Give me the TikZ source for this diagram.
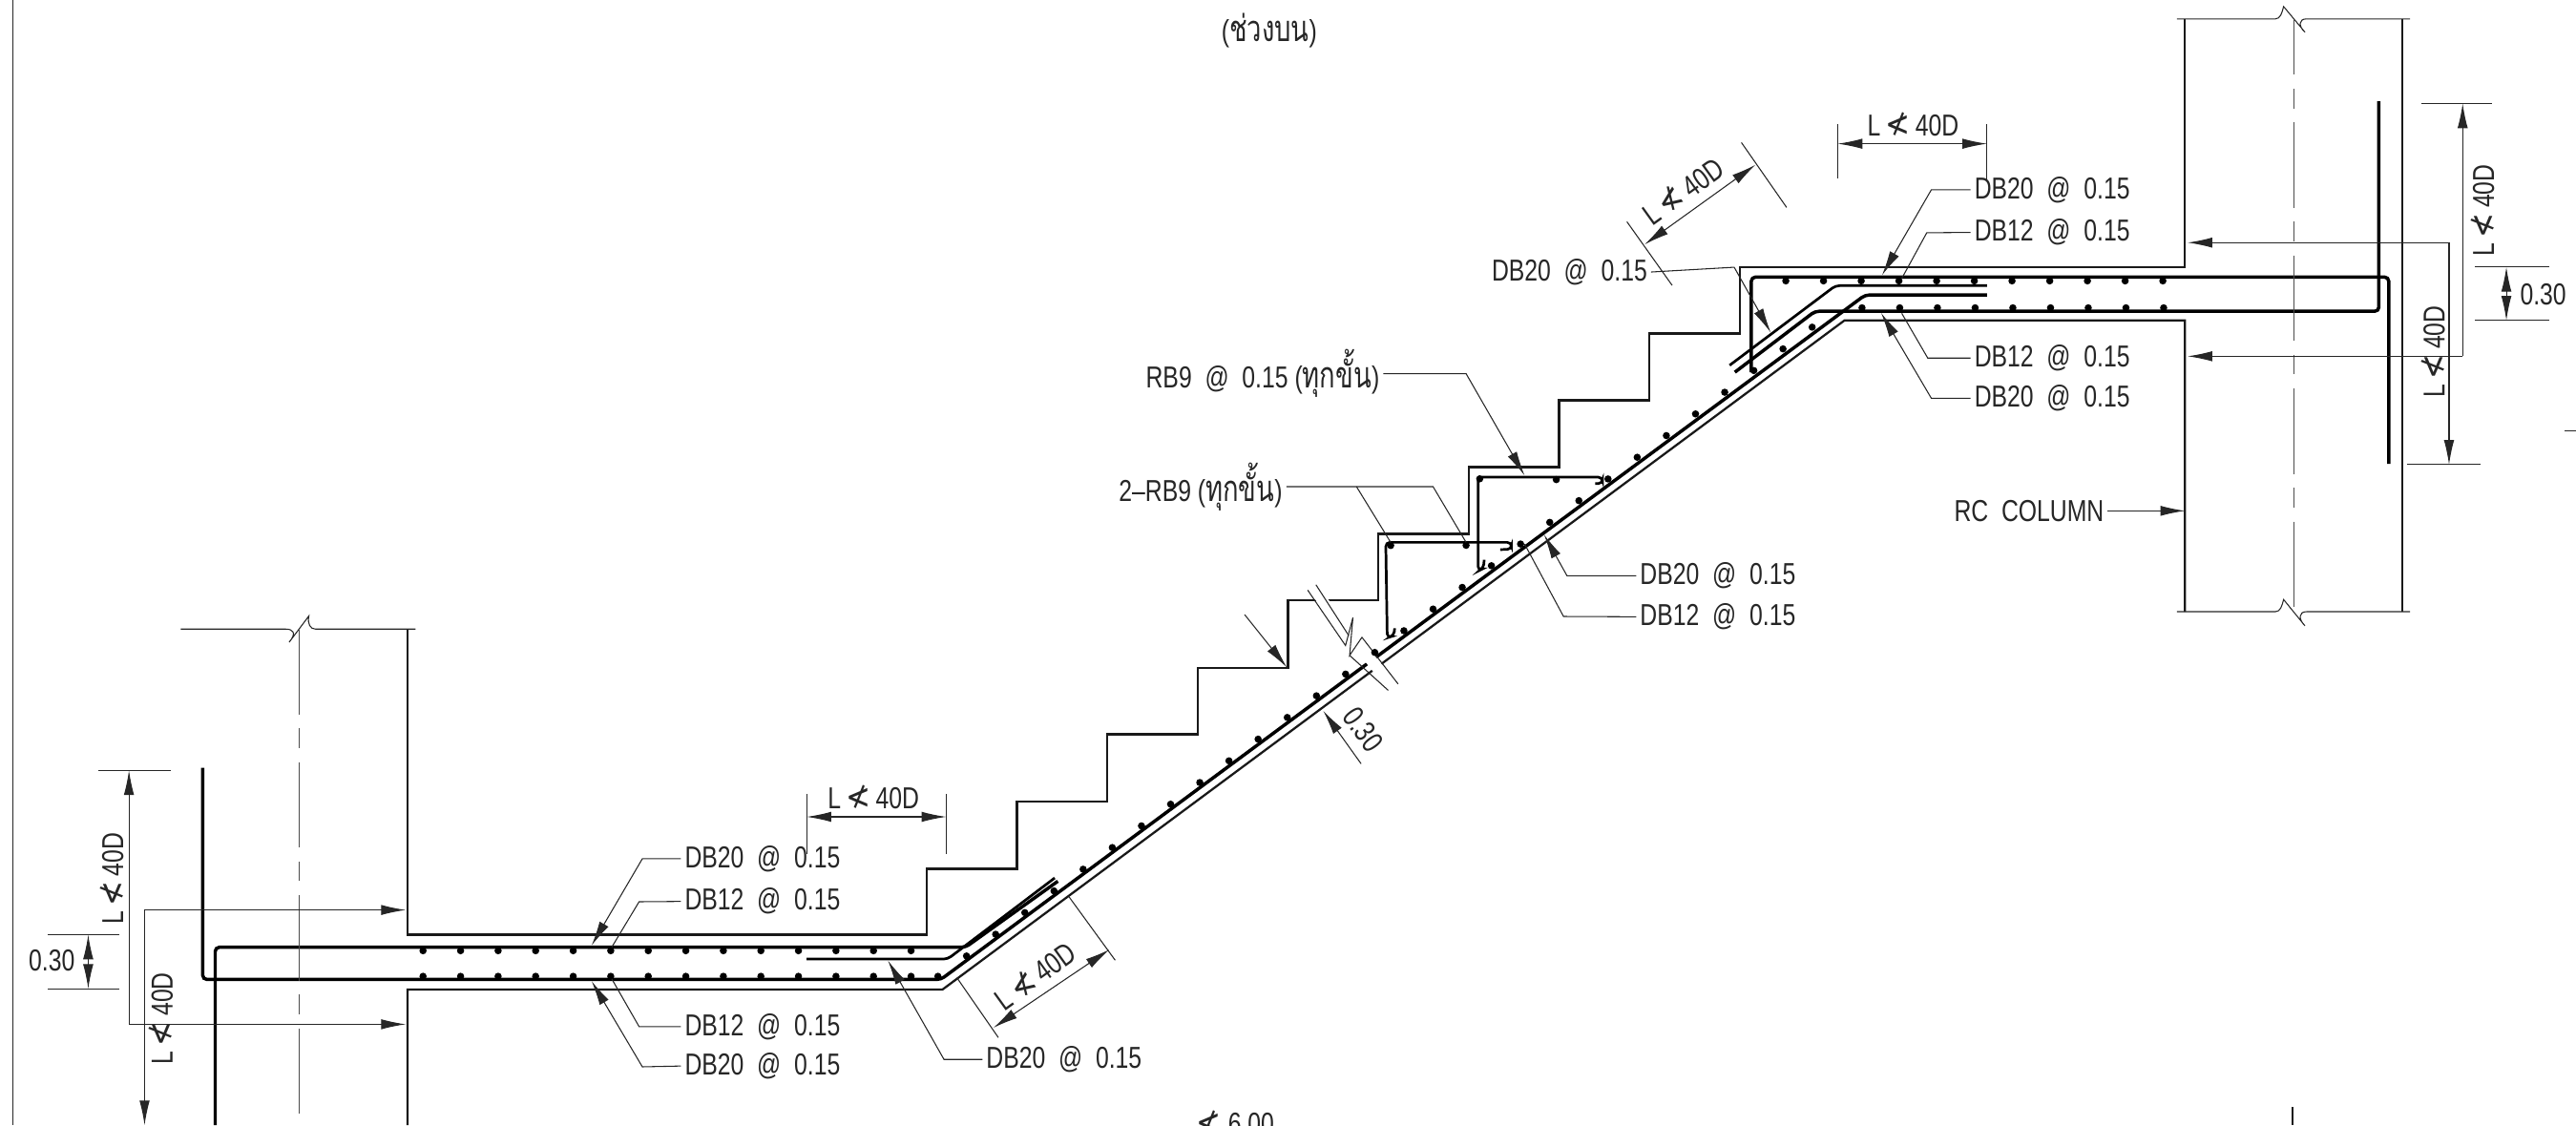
\documentclass[tikz,border=0pt]{standalone}
\usepackage{fontspec}
\usetikzlibrary{arrows.meta,positioning}
\newfontfamily\lblfamily[FakeStretch=0.78]{Liberation Sans}
\newfontfamily\thaifont[Script=Thai,FakeStretch=0.72,Scale=1.2]{Loma}
\newfontfamily\symfont[FakeStretch=0.85,Scale=1.15]{DejaVu Sans}
\newcommand{\nlt}{{\symfont ≮}}
\newcommand{\lap}{L\,\nlt\,40D}
\newcommand{\dbtext}[1]{#1\ \ @\ \ 0.15}
\tikzstyle{lbl} = [font=\lblfamily\fontsize{10.5pt}{12pt}\selectfont, inner sep=0.4mm, text=black!85]
\tikzstyle{ldr} = [line width=0.35pt, black!85]
\tikzstyle{outline} = [line width=0.75pt, black!90]
\tikzstyle{rebar} = [line width=1.15pt, rounded corners=0.5mm]
\tikzstyle{centerline} = [line width=0.3pt, black!70, dash pattern=on 10.4mm off 1.7mm on 2.4mm off 1.7mm]

\begin{document}
\begin{tikzpicture}[x=0.2mm,y=-0.2mm,>={Latex[length=3mm,width=1.25mm]}]
  \useasboundingbox (0,0) rectangle (1568,685);
  \clip (0,0) rectangle (1568,685);

  % concrete
  \draw[ldr] (8,0) -- (8,685);
  \draw[outline] (248,383) -- (248,569) -- (564,569) -- (564,529) -- (619,529) -- (619,488)
    -- (674,488) -- (674,447) -- (729,447) -- (729,406.5) -- (784,406.5) -- (784,365.6)
    -- (839,365.6) -- (839,325) -- (894,325) -- (894,284.3) -- (949,284.3) -- (949,243.7)
    -- (1004,243.7) -- (1004,203) -- (1059,203) -- (1059,162.6) -- (1330,162.6) -- (1330,11.5);
  \draw[outline] (248,685) -- (248,602.5) -- (573.6,602.5) -- (1122.8,195) -- (1330,195) -- (1330,372.4);
  \draw[outline] (1462.4,11.5) -- (1462.4,372.4);

  % rebars
  \draw[rebar] (131,685) -- (131,576.7) -- (587.7,576.7) -- (643.9,536.5);
  \draw[rebar] (123.4,467.5) -- (123.4,596.3) -- (572.7,596.3) -- (1135.3,179.6) -- (1209.5,179.6);
  \draw[rebar,line width=0.9pt] (491,583.9) -- (576.8,583.9) -- (642,534.5);
  \draw[rebar] (1056,226.6) -- (1104.8,189.5) -- (1448,189.5) -- (1448,61.6);
  \draw[rebar,line width=0.9pt] (1052.8,222.4) -- (1117.3,173.9) -- (1209.5,173.9);
  \draw[rebar] (1066,226.6) -- (1066,168.7) -- (1454,168.7) -- (1454,282.4);
  \draw[rebar,line width=0.9pt] (903.4,340.8) -- (903,346) -- (899.8,347.6) -- (899.8,290.5) -- (975.4,290.5) -- (975.4,294.4) -- (971,294.4);
  \draw[rebar,line width=0.9pt] (848.9,382.5) -- (848.5,387) -- (844.4,388.3) -- (843.5,330.2) -- (920,330.2) -- (920,334.4) -- (913.2,334.6);

  % break lines
  \fill[white] (796,359.3) -- (801,356) -- (851,416.4) -- (845,420.3) -- cycle;
  \draw[ldr] (796,359.3) -- (819,393) -- (823.5,376) -- (821.5,399) -- (829,388) -- (851,416.4);
  \draw[ldr] (801,356) -- (821,387);
  \draw[ldr] (821.5,399) -- (845,420.3);
  \draw[ldr] (110,383) -- (174,383) .. controls (178,383) and (181,385) .. (176,391) -- (188,375)
    .. controls (187,380) and (189,383) .. (192,383) -- (253,383);
  \draw[ldr] (1325,11.5) -- (1385,11.5) .. controls (1388,11.5) and (1389,8) .. (1390,4) -- (1403,19.6)
    .. controls (1399,16) and (1399,11.5) .. (1404,11.5) -- (1467,11.5);
  \draw[ldr] (1325,372.4) -- (1385,372.4) .. controls (1388,372.4) and (1389,369) .. (1390,365) -- (1403,381)
    .. controls (1399,377) and (1399,372.4) .. (1404,372.4) -- (1467,372.4);
  \draw[centerline] (182,383) -- (182,685);
  \draw[centerline,dash phase=3.6mm] (1396,11.5) -- (1396,372.4);
  \draw[outline] (1395.6,674) -- (1395.6,685);
  \draw[ldr] (1561,262.4) -- (1568,262.4);

  % main bars shown in section
  \foreach \i in {0,...,13} {
    \fill (257.5+22.85*\i,578.8) circle (2.2);
    \fill (257.5+22.85*\i,594.4) circle (2.2);
  }
  \fill (570.9,594.4) circle (2.2);
  \foreach \i in {0,...,29}
    \fill (588.3+17.75*\i,582-13.2*\i) circle (2.2);
  \foreach \i in {0,...,10}
    \fill (1087+22.95*\i,171) circle (2.2);
  \foreach \i in {0,...,8}
    \fill (1133.4+22.95*\i,187.4) circle (2.2);
  \foreach \p in {(947.3,292),(900.7,291.5),(892.4,332),(846.5,332.1)}
    \fill \p circle (2.2);

  % labels
  \node[lbl,anchor=west] (topA) at (414.5,522.8) {\dbtext{DB20}};
  \node[lbl] (topB) [below=5.2mm of topA.west,anchor=west] {\dbtext{DB12}};
  \node[lbl,anchor=west] (botB) at (414.5,625) {\dbtext{DB12}};
  \node[lbl] (botA) [below=4.8mm of botB.west,anchor=west] {\dbtext{DB20}};
  \node[lbl,anchor=west] (lowlap) at (598,645) {\dbtext{DB20}};
  \node[lbl,anchor=west] (midA) at (996,350.5) {\dbtext{DB20}};
  \node[lbl] (midB) [below=5mm of midA.west,anchor=west] {\dbtext{DB12}};
  \node[lbl,anchor=west] (rtopA) at (1199.5,115.5) {\dbtext{DB20}};
  \node[lbl] (rtopB) [below=5.2mm of rtopA.west,anchor=west] {\dbtext{DB12}};
  \node[lbl,anchor=west] (rbotB) at (1199.5,218) {\dbtext{DB12}};
  \node[lbl] (rbotA) [below=4.9mm of rbotB.west,anchor=west] {\dbtext{DB20}};
  \node[lbl,anchor=east] (uplap) at (1005,165.6) {\dbtext{DB20}};
  \node[lbl,anchor=east] (tread) at (842,227.5) {RB9\ \ @\ \ 0.15 ({\thaifont ทุกขั้น})};
  \node[lbl,anchor=east] (twobar) at (783,296.3) {2–RB9 ({\thaifont ทุกขั้น})};
  \node[lbl,anchor=east] (rccol) at (1283,311) {RC\ \ COLUMN};
  \node[lbl] (title) at (772.6,18.4) {({\thaifont ช่วงบน})};
  \node[lbl] (span) at (752,683.5) {\nlt\ 6.00};

  \node[lbl] (gapL) at (31.5,585) {0.30};
  \node[lbl] (gapR) at (1548,179) {0.30};
  \node[lbl,rotate=-54] (gapS) at (830,444) {0.30};
  \node[lbl,rotate=90] (lapA) at (68,535) {\lap};
  \node[lbl,rotate=90] (lapB) at (98,620) {\lap};
  \node[lbl] (lapC) at (531.7,485.5) {\lap};
  \node[lbl,rotate=35.7] (lapD) at (630,594) {\lap};
  \node[lbl,rotate=35.7] (lapE) at (1024.2,116.2) {\lap};
  \node[lbl] (lapF) at (1164.5,75.5) {\lap};
  \node[lbl,rotate=90] (lapG) at (1511,128) {\lap};
  \node[lbl,rotate=90] (lapH) at (1481,214) {\lap};

  % leaders
  \draw[ldr,->] (topA.west) -- (391,522.8) -- (360.1,575.6);
  \draw[ldr] (topB.west) -- (389,549) -- (372.4,576.6);
  \draw[ldr] (botB.west) -- (389,625) -- (372.4,596);
  \draw[ldr,->] (botA.west) -- (391,649.5) -- (360.1,597.3);
  \draw[ldr,->] (lowlap.west) -- (574.6,645) -- (540.5,584.8);
  \draw[ldr,->] (midA.west) -- (953.8,350.5) -- (939.8,325.4);
  \draw[ldr] (midB.west) -- (951.7,375.3) -- (928,331.2);
  \draw[ldr,->] (rtopA.west) -- (1175.6,115.5) -- (1145.6,167.5);
  \draw[ldr] (rtopB.west) -- (1172.8,141.7) -- (1157.6,169.5);
  \draw[ldr] (rbotB.west) -- (1173.4,218) -- (1157.6,190.8);
  \draw[ldr,->] (rbotA.west) -- (1175.6,242.5) -- (1145,190.5);
  \draw[ldr,->] (uplap.east) -- (1055.6,162.7) -- (1077.8,202.4);
  \draw[ldr,->] (tread.east) -- (892.4,227.5) -- (928,289.5);
  \draw[ldr] (twobar.east) -- (872.3,296.3) -- (892.4,330.2);
  \draw[ldr] (825.7,296.3) -- (846.5,330.2);
  \draw[ldr,->] (rccol.east) -- (1330,311);
  \draw[ldr,->] (757.6,374.2) -- (783.3,406.3);

  % dimension lines
  \draw[ldr] (60,469) -- (104,469);
  \draw[ldr,->] (78.5,623.6) -- (78.5,469);
  \draw[ldr,->] (78.5,623.6) -- (247,623.6);
  \draw[ldr,->] (88,554) -- (247,554);
  \draw[ldr,->] (88,554) -- (88,685);
  \draw[ldr] (29,569) -- (72.6,569);
  \draw[ldr] (29,602) -- (72.6,602);
  \draw[ldr,<->] (53.7,569) -- (53.7,602);

  \draw[ldr] (491,483.5) -- (491,520);
  \draw[ldr] (576,483.5) -- (576,520);
  \draw[ldr,<->] (491,497.3) -- (576,497.3);

  \draw[ldr] (582.5,595.3) -- (607.7,631.7);
  \draw[ldr] (650.7,546) -- (678.8,584.6);
  \draw[ldr,<->] (604.7,625.7) -- (675.3,578.1);

  \draw[ldr,->] (828.5,465) -- (805.4,432.7);

  \draw[ldr] (990.3,135) -- (1017.8,173.7);
  \draw[ldr] (1060,86.8) -- (1087.5,126.3);
  \draw[ldr,<->] (1001.1,148.8) -- (1068.6,100.3);

  \draw[ldr] (1118.6,75.5) -- (1118.6,108.8);
  \draw[ldr] (1209.5,75.5) -- (1209.5,110);
  \draw[ldr,<->] (1118.6,87.5) -- (1209.5,87.5);

  \draw[ldr] (1474,63) -- (1517,63);
  \draw[ldr,->] (1499,216.9) -- (1499,63);
  \draw[ldr,->] (1499,216.9) -- (1331.6,216.9);
  \draw[ldr,->] (1490.7,147.7) -- (1331.6,147.7);
  \draw[ldr,->] (1490.7,147.7) -- (1490.7,282.9);
  \draw[ldr] (1465,282.9) -- (1509.8,282.9);
  \draw[ldr] (1506.6,162.6) -- (1551.7,162.6);
  \draw[ldr] (1506.6,195.1) -- (1551.7,195.1);
  \draw[ldr,<->] (1525.6,162.6) -- (1525.6,195.1);
\end{tikzpicture}
\end{document}
